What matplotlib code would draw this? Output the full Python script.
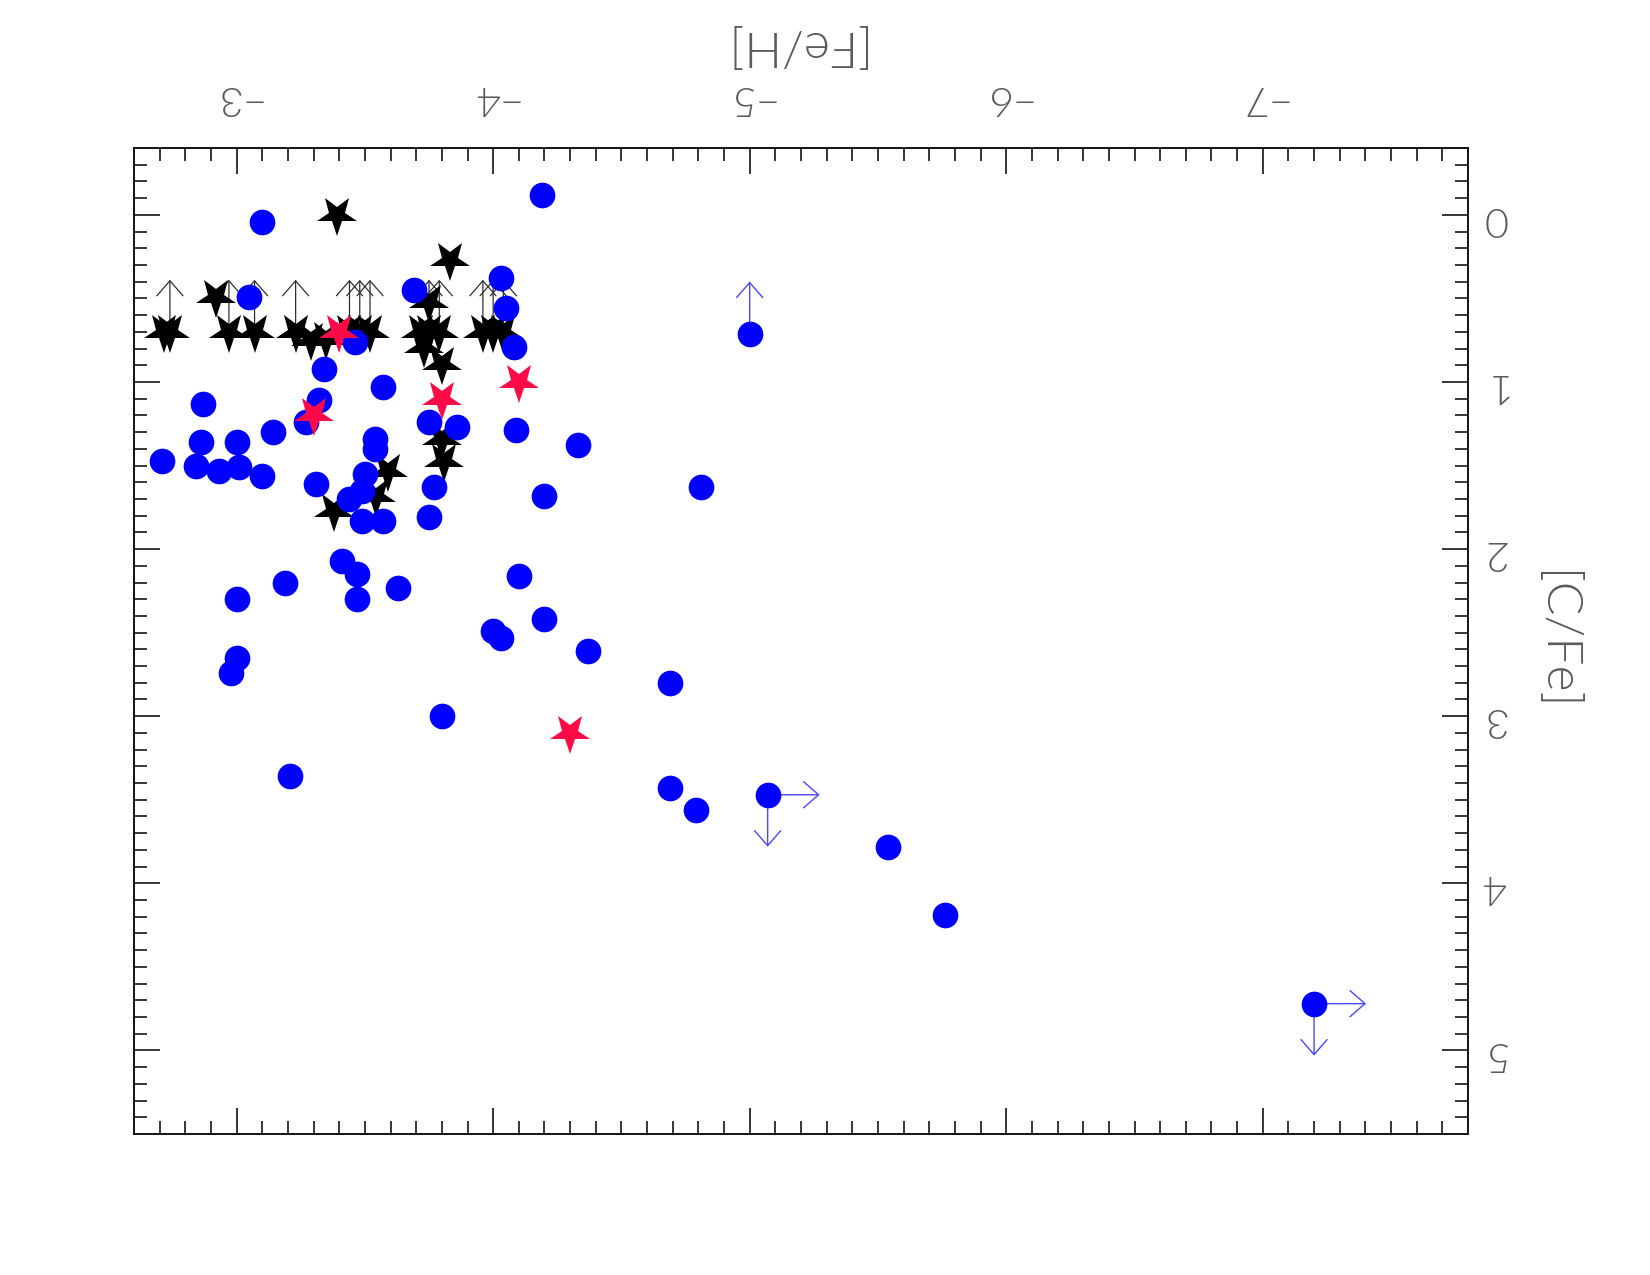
import matplotlib
matplotlib.use("Agg")
import matplotlib.pyplot as plt
from matplotlib.markers import MarkerStyle
from matplotlib.transforms import Affine2D, offset_copy

# ---------------- data ----------------
# blue circles: [Fe/H], [C/Fe]
blue_feh = [-4.19, -3.10, -3.05, -4.03, -4.05, -3.69, -4.08, -3.46, -3.34, -2.87,
            -3.32, -3.27, -3.57, -3.75, -3.86, -4.09, -4.33, -2.71, -2.86, -3.00,
            -2.84, -2.93, -3.01, -3.10, -3.14, -3.54, -3.54, -3.50, -3.49, -3.31,
            -3.44, -3.49, -3.57, -3.75, -3.77, -4.20, -3.41, -3.47, -3.47, -3.63,
            -3.19, -3.00, -4.10, -4.20, -4.00, -4.03, -3.00, -2.98, -4.81, -4.37,
            -4.69, -3.80, -3.21, -4.69, -4.79, -5.07, -5.54, -5.76, -7.20, -5.00]
blue_cfe = [-0.12, 0.04, 0.49, 0.38, 0.56, 0.45, 0.79, 0.76, 0.92, 1.13,
            1.11, 1.24, 1.03, 1.24, 1.27, 1.29, 1.38, 1.47, 1.36, 1.36,
            1.50, 1.53, 1.51, 1.56, 1.30, 1.34, 1.40, 1.55, 1.65, 1.61,
            1.70, 1.83, 1.83, 1.81, 1.63, 1.68, 2.07, 2.15, 2.30, 2.23,
            2.20, 2.30, 2.16, 2.42, 2.49, 2.53, 2.65, 2.74, 1.63, 2.61,
            2.80, 3.00, 3.36, 3.43, 3.56, 3.47, 3.78, 4.19, 4.72, 0.71]
# limit flags: [Fe/H] upper limit (arrow toward lower [Fe/H]); [C/Fe] limit direction
blue_feh_lim = [0]*55 + [1, 0, 0, 1, 0]
blue_cfe_lim = [0]*55 + [1, 0, 0, 1, -1]   # +1: toward higher [C/Fe], -1: toward lower

# black stars
black_feh = [-3.39, -3.83, -2.92, -3.75,
             -2.715, -2.74, -2.97, -3.07, -3.23, -3.44, -3.48, -3.52,
             -3.72, -3.75, -3.79, -3.96, -4.00, -4.04,
             -3.29, -3.35, -3.73, -3.80, -3.80, -3.81, -3.59, -3.545, -3.38]
black_cfe = [0.00, 0.27, 0.49, 0.52,
             0.70, 0.70, 0.70, 0.70, 0.70, 0.70, 0.70, 0.70,
             0.70, 0.70, 0.70, 0.70, 0.70, 0.70,
             0.75, 0.74, 0.79, 0.89, 1.34, 1.47, 1.53, 1.68, 1.77]
black_cfe_lim = [0, 0, 0, 0,
                 0, -1, -1, -1, -1, -1, -1, -1,
                 0, -1, -1, -1, -1, -1,
                 0, 0, 0, 0, 0, 0, 0, 0, 0]

# red stars
red_feh = [-3.40, -3.30, -3.80, -4.10, -4.30]
red_cfe = [0.70, 1.20, 1.10, 1.00, 3.10]

xticks = [-3, -4, -5, -6, -7]
xtick_labels = ['\u22123', '\u22124', '\u22125', '\u22126', '\u22127']
yticks = [0, 1, 2, 3, 4, 5]
ytick_labels = ['0', '1', '2', '3', '4', '5']
xlabel = '[Fe/H]'
ylabel = '[C/Fe]'

# ---------------- style ----------------
plt.rcParams['font.family'] = ['Lato', 'DejaVu Sans']
text_color = '#5a5a5a'
font_w = 300

W, H, DPI = 1650, 1275, 100
fig = plt.figure(figsize=(W / DPI, H / DPI), dpi=DPI)
L, R, T, B = 134, 1468, 148, 1134
ax = fig.add_axes([L / W, 1 - B / H, (R - L) / W, (B - T) / H])
ax.set_xlim(-2.6, -7.8)
ax.set_ylim(5.5, -0.4)

ax.set_xticks(xticks)
ax.set_xticklabels(xtick_labels)
ax.set_xticks([v / 10 for v in range(-77, -26)], minor=True)
ax.set_yticks(yticks)
ax.set_yticklabels(ytick_labels)
ax.set_yticks([v / 10 for v in range(-3, 55)], minor=True)

ax.tick_params(which='both', direction='in', top=True, bottom=True, left=True, right=True,
               labeltop=True, labelbottom=False, labelleft=False, labelright=True,
               color='black', width=1.1)
ax.tick_params(which='major', length=18.5)
ax.tick_params(which='minor', length=9.4)
ax.tick_params(axis='x', which='major', pad=23, labelsize=30, labelrotation=180,
               labelcolor=text_color)
ax.tick_params(axis='y', which='major', pad=10, labelsize=30, labelrotation=180,
               labelcolor=text_color)
for lab in ax.get_xticklabels() + ax.get_yticklabels():
    lab.set_fontweight(font_w)
for sp in ax.spines.values():
    sp.set_linewidth(1.3)

fig.text((L + R) / 2 / W - 0.006, 1 - 44 / H, xlabel, rotation=180, ha='center', va='center',
         fontsize=36, color=text_color, fontweight=font_w)
fig.text(1555 / W, 1 - ((T + B) / 2) / H, ylabel, rotation=270, ha='center', va='center',
         fontsize=36, color=text_color, fontweight=font_w)

# ---------------- arrows ----------------
ALEN = 52  # pixels


def limit_arrow(x, y, dx, dy, color, lw):
    tip = offset_copy(ax.transData, fig=fig, x=dx, y=dy, units='dots')
    ax.annotate('', xy=(x, y), xycoords=tip, xytext=(x, y), textcoords='data',
                arrowprops=dict(arrowstyle='->,head_length=10.8,head_width=9.4',
                                color=color, lw=lw, shrinkA=0, shrinkB=0,
                                mutation_scale=1), zorder=1, annotation_clip=False)


for x, y, fl in zip(black_feh, black_cfe, black_cfe_lim):
    if fl:
        limit_arrow(x, y, 0, -fl * ALEN, '#303030', 0.9)

for x, y, fx, fy in zip(blue_feh, blue_cfe, blue_feh_lim, blue_cfe_lim):
    if fx:
        limit_arrow(x, y, ALEN, 0, '#4848ff', 1.0)
    if fy:
        limit_arrow(x, y, 0, -fy * ALEN, '#4848ff', 1.0)

# ---------------- markers ----------------
star = MarkerStyle('*', transform=Affine2D().rotate_deg(180))
ax.plot(black_feh, black_cfe, linestyle='none', marker=star, markersize=30,
        color='black', markeredgewidth=0, zorder=2)
ax.plot(blue_feh, blue_cfe, linestyle='none', marker='o', markersize=18.5,
        color='#0000ff', markeredgewidth=0, zorder=3)
ax.plot(red_feh, red_cfe, linestyle='none', marker=star, markersize=30,
        color='#ff0a46', markeredgewidth=0, zorder=4)

fig.savefig('out.png', dpi=DPI)
